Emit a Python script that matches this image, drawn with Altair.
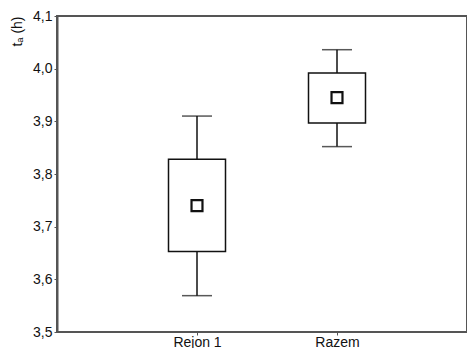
import altair as alt
import pandas as pd

groups = ["Rejon 1", "Razem"]
means = [3.740, 3.945]
box_lo = [3.653, 3.897]
box_hi = [3.828, 3.992]
whisk_lo = [3.569, 3.852]
whisk_hi = [3.910, 4.036]
y_ticks = [3.5, 3.6, 3.7, 3.8, 3.9, 4.0, 4.1]

df = pd.DataFrame({
    "group": groups, "mean": means, "blo": box_lo, "bhi": box_hi,
    "wlo": whisk_lo, "whi": whisk_hi,
})

x = alt.X("group:N", sort=groups, scale=alt.Scale(type="point", range=[140, 280], padding=0),
          axis=alt.Axis(title=None, labelAngle=0, labelFont="Liberation Sans",
                        labelFontSize=14, labelColor="#111", domain=False,
                        tickColor="#555", tickSize=3, labelPadding=0))
yscale = alt.Scale(domain=[3.5, 4.1], nice=False, zero=False)
yaxis = alt.Axis(title="tₐ (h)", values=y_ticks,
                 labelExpr="replace(format(datum.value, '.1f'), '.', ',')",
                 labelFont="Liberation Sans", labelFontSize=14, labelColor="#111",
                 titleFont="Liberation Sans", titleFontSize=14, titleFontWeight="normal",
                 titleColor="#111", titleAnchor="end", titlePadding=8,
                 domainColor="#555", domainWidth=2, tickColor="#555", tickSize=3,
                 grid=False, labelPadding=2)

base = alt.Chart(df)
whisk = base.mark_rule(color="#111", strokeWidth=1.5).encode(
    x=x, y=alt.Y("wlo:Q", scale=yscale, axis=yaxis), y2="whi:Q")
box = base.mark_bar(size=57, fill="white", stroke="#111", strokeWidth=1.5).encode(
    x=x, y=alt.Y("blo:Q", scale=yscale), y2="bhi:Q")
cap_lo = base.mark_tick(color="#111", size=30, thickness=1.5, orient="horizontal").encode(
    x=x, y=alt.Y("wlo:Q", scale=yscale))
cap_hi = base.mark_tick(color="#111", size=30, thickness=1.5, orient="horizontal").encode(
    x=x, y=alt.Y("whi:Q", scale=yscale))
pt = base.mark_point(shape="square", size=120, filled=False, fill="white",
                     stroke="#111", strokeWidth=2.2, opacity=1).encode(
    x=x, y=alt.Y("mean:Q", scale=yscale))

chart = alt.layer(whisk, box, cap_lo, cap_hi, pt).properties(
    width=410, height=316,
    background="white",
    autosize=alt.AutoSizeParams(type="none"),
    padding={"left": 49, "top": 8, "right": 0, "bottom": 16},
).configure_view(stroke="#555", strokeWidth=2)

chart.save("out.html", embed_options={"renderer": "svg", "actions": False})
